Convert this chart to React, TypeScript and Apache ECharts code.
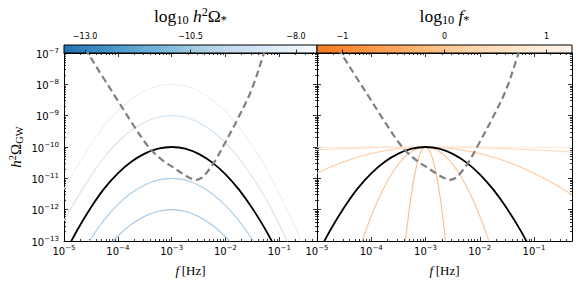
import React, { useEffect, useRef } from 'react';
import * as echarts from 'echarts';

// ---- data (log10 values) ----
const freqExp = [-5, -4.75, -4.5, -4.25, -4, -3.75, -3.5, -3.25, -3, -2.75, -2.5, -2.25, -2, -1.75, -1.5, -1.25, -1, -0.75, -0.5, -0.3];

const fiducialExp = [-13.45, -12.64, -11.93, -11.32, -10.84, -10.47, -10.21, -10.05, -10.0, -10.05, -10.22, -10.49, -10.87, -11.36, -11.96, -12.66, -13.48, -14.4, -15.4, -16.3];

// left panel: amplitude variations (log10 h^2 Omega_* = -12, -11, -9, -8)
const ampLevels = [-12, -11, -9, -8];
const ampM12Exp = [-15.45, -14.64, -13.93, -13.32, -12.84, -12.47, -12.21, -12.05, -12.0, -12.05, -12.22, -12.49, -12.87, -13.36, -13.96, -14.66, -15.48, -16.4, -17.4, -18.3];
const ampM11Exp = [-14.45, -13.64, -12.93, -12.32, -11.84, -11.47, -11.21, -11.05, -11.0, -11.05, -11.22, -11.49, -11.87, -12.36, -12.96, -13.66, -14.48, -15.4, -16.4, -17.3];
const ampM9Exp = [-12.35, -11.6, -10.92, -10.32, -9.84, -9.47, -9.21, -9.05, -9.0, -9.05, -9.22, -9.49, -9.87, -10.36, -10.96, -11.66, -12.48, -13.4, -14.4, -15.3];
const ampM8Exp = [-11.35, -10.6, -9.92, -9.32, -8.84, -8.47, -8.21, -8.05, -8.0, -8.05, -8.22, -8.49, -8.87, -9.36, -9.96, -10.66, -11.48, -12.4, -13.4, -14.3];

// right panel: width variations (log10 f_* = -1, -0.5, 0, 0.5, 1)
const widthLevels = [-1, -0.5, 0, 0.5, 1];
const narrowFreqExp = [-3.45, -3.4, -3.35, -3.3, -3.25, -3.2, -3.15, -3.1, -3.05, -3, -2.95, -2.9, -2.85, -2.8, -2.75, -2.7, -2.65, -2.6, -2.55];
const widthM1Exp = [-14.46, -13.52, -12.7, -11.98, -11.38, -10.88, -10.5, -10.22, -10.055, -10, -10.055, -10.22, -10.5, -10.88, -11.38, -11.98, -12.7, -13.52, -14.46];
const midFreqExp = [-4.6, -4.4, -4.2, -4.0, -3.8, -3.6, -3.4, -3.2, -3.0, -2.8, -2.6, -2.4, -2.2, -2.0, -1.8, -1.6, -1.4];
const widthM05Exp = [-15.63, -14.31, -13.17, -12.2, -11.41, -10.79, -10.35, -10.09, -10, -10.09, -10.35, -10.79, -11.41, -12.2, -13.17, -14.31, -15.63];
const width0Exp = [-10.84, -10.64, -10.47, -10.33, -10.21, -10.12, -10.05, -10.01, -10, -10.01, -10.05, -10.12, -10.21, -10.33, -10.47, -10.64, -10.84, -11.06, -11.31, -11.53];
const width05Exp = [-10.09, -10.07, -10.05, -10.04, -10.02, -10.01, -10.01, -10.0, -10, -10.0, -10.01, -10.01, -10.02, -10.04, -10.05, -10.07, -10.09, -10.12, -10.14, -10.17];
const width1Exp = [-10.01, -10.01, -10.005, -10.004, -10.002, -10.001, -10.001, -10, -10, -10, -10.001, -10.001, -10.002, -10.004, -10.005, -10.007, -10.009, -10.012, -10.015, -10.02];

// sensitivity curve (dashed)
const sensFreqExp = [-4.62, -4.53, -4.27, -4.0, -3.75, -3.5, -3.34, -3.15, -3.0, -2.8, -2.65, -2.55, -2.45, -2.35, -2.2, -2.0, -1.77, -1.52, -1.3, -1.25];
const sensOmegaExp = [-6.85, -7.08, -7.79, -8.52, -9.2, -9.84, -10.17, -10.45, -10.62, -10.85, -11.0, -11.05, -10.99, -10.82, -10.46, -9.84, -9.09, -8.19, -7.08, -6.8];

// ticks
const xTickExp = [-5, -4, -3, -2, -1];
const yTickExp = [-13, -12, -11, -10, -9, -8, -7];
const ampBarTicks = [-13, -10.5, -8];
const widthBarTicks = [-1, 0, 1];
const ampBarRange = [-13.5, -7.5];
const widthBarRange = [-1.25, 1.25];

// ---- layout / styles ----
const X_MIN = -5;
const X_MAX = Math.log10(0.5);
const Y_MIN = -13;
const Y_MAX = -7;

const blueColors = ['#a0c6e2', '#aacde6', '#d2e3f2', '#e8f1f9'];
const orangeColors = ['#fdbd86', '#fdc28f', '#fdcb9f', '#fedabd', '#feeadb'];

const minorX: number[] = [];
for (let n = -5; n <= -1; n++) {
  for (let k = 2; k <= 9; k++) {
    const v = n + Math.log10(k);
    if (v < X_MAX - 1e-6) minorX.push(v);
  }
}
const minorY: number[] = [];
for (let n = -13; n <= -8; n++) {
  for (let k = 2; k <= 9; k++) minorY.push(n + Math.log10(k));
}

const MINUS = '\u2212';
const powLabel = (v: number) => {
  const e = Math.round(v);
  return `{b|10}{e|${e < 0 ? MINUS : ''}${Math.abs(e)}}`;
};
const tickRich = {
  b: { fontFamily: 'DejaVu Sans', fontSize: 10, lineHeight: 12, verticalAlign: 'bottom', color: '#000' },
  e: { fontFamily: 'DejaVu Sans', fontSize: 7, lineHeight: 7, verticalAlign: 'top', color: '#000' },
};
const serif = 'Liberation Serif';
const mathRich = (size: number) => ({
  r: { fontFamily: serif, fontSize: size, lineHeight: size + 3, color: '#000' },
  i: { fontFamily: serif, fontStyle: 'italic', fontSize: size, lineHeight: size + 3, color: '#000' },
  s: { fontFamily: serif, fontSize: size * 0.7, lineHeight: size * 0.55, verticalAlign: 'bottom', color: '#000' },
  p: { fontFamily: serif, fontSize: size * 0.7, lineHeight: size * 0.55, verticalAlign: 'top', color: '#000' },
});

const tickLine = { color: '#000', width: 0.8 };

function panelXAxes(grid: number) {
  const base = { type: 'value', gridIndex: grid, min: X_MIN, max: X_MAX, splitLine: { show: false } };
  return [
    {
      ...base, position: 'bottom',
      axisLine: { show: true, onZero: false, lineStyle: { color: '#000', width: 1 } },
      axisTick: { show: true, inside: true, length: 4, customValues: xTickExp, lineStyle: tickLine },
      axisLabel: { show: true, customValues: xTickExp, formatter: powLabel, margin: 3, rich: tickRich },
      name: '{i|f}{r|\u2009[Hz]}', nameLocation: 'middle', nameGap: 21,
      nameTextStyle: { rich: mathRich(13) },
    },
    {
      ...base, position: 'top',
      axisLine: { show: true, onZero: false, lineStyle: { color: '#000', width: 1 } },
      axisTick: { show: true, inside: true, length: 4, customValues: xTickExp, lineStyle: tickLine },
      axisLabel: { show: false },
    },
    {
      ...base, position: 'bottom', axisLine: { show: false },
      axisTick: { show: true, inside: true, length: 2, customValues: minorX, lineStyle: tickLine },
      axisLabel: { show: false },
    },
    {
      ...base, position: 'top', axisLine: { show: false },
      axisTick: { show: true, inside: true, length: 2, customValues: minorX, lineStyle: tickLine },
      axisLabel: { show: false },
    },
  ];
}

function panelYAxes(grid: number, withLabels: boolean) {
  const base = { type: 'value', gridIndex: grid, min: Y_MIN, max: Y_MAX, splitLine: { show: false } };
  const main: any = {
    ...base, position: 'left',
    axisLine: { show: true, onZero: false, lineStyle: { color: '#000', width: 1 } },
    axisTick: { show: true, inside: true, length: 4, customValues: yTickExp, lineStyle: tickLine },
    axisLabel: withLabels
      ? { show: true, customValues: yTickExp, formatter: powLabel, margin: 5, rich: tickRich }
      : { show: false },
  };
  if (withLabels) {
    main.name = '{i|h}{p|2}{r|\u03A9}{s|GW}';
    main.nameLocation = 'middle';
    main.nameGap = 39;
    main.nameTextStyle = { rich: mathRich(15) };
  }
  return [
    main,
    {
      ...base, position: 'right',
      axisLine: { show: true, onZero: false, lineStyle: { color: '#000', width: 1 } },
      axisTick: { show: true, inside: true, length: 4, customValues: yTickExp, lineStyle: tickLine },
      axisLabel: { show: false },
    },
    {
      ...base, position: 'left', axisLine: { show: false },
      axisTick: { show: true, inside: true, length: 2, customValues: minorY, lineStyle: tickLine },
      axisLabel: { show: false },
    },
    {
      ...base, position: 'right', axisLine: { show: false },
      axisTick: { show: true, inside: true, length: 2, customValues: minorY, lineStyle: tickLine },
      axisLabel: { show: false },
    },
  ];
}

function colorbarAxis(grid: number, range: number[], ticks: number[], fmt: (v: number) => string, name: string) {
  return {
    type: 'value', gridIndex: grid, position: 'top', min: range[0], max: range[1],
    splitLine: { show: false },
    axisLine: { show: false },
    axisTick: { show: true, inside: false, length: 3.5, customValues: ticks, lineStyle: tickLine },
    axisLabel: {
      show: true, customValues: ticks, formatter: fmt, margin: 5,
      fontFamily: 'DejaVu Sans', fontSize: 8, color: '#000',
    },
    name, nameLocation: 'middle', nameGap: 19,
    nameTextStyle: { rich: mathRich(17.5) },
  };
}

const gradient = (stops: [number, string][]) => ({
  type: 'linear', x: 0, y: 0, x2: 1, y2: 0,
  colorStops: stops.map(([offset, color]) => ({ offset, color })),
});

function lineSeries(xs: number[], ys: number[], grid: number, color: string, width: number, z: number, dashed = false) {
  return {
    type: 'line',
    xAxisIndex: grid * 4,
    yAxisIndex: grid * 4,
    data: xs.map((x, i) => [x, ys[i]]),
    showSymbol: false,
    symbol: 'none',
    smooth: 0.35,
    clip: true,
    silent: true,
    z,
    lineStyle: { color, width, type: dashed ? [7, 4] : 'solid', cap: 'butt' },
  };
}

export default function App() {
  const ref = useRef<HTMLDivElement>(null);
  useEffect(() => {
    if (!ref.current) return;
    const chart = echarts.init(ref.current, undefined, { renderer: 'svg' });

    const ampSeries = [ampM12Exp, ampM11Exp, ampM9Exp, ampM8Exp];
    const widthSeries: [number[], number[]][] = [
      [narrowFreqExp, widthM1Exp],
      [midFreqExp, widthM05Exp],
      [freqExp, width0Exp],
      [freqExp, width05Exp],
      [freqExp, width1Exp],
    ];

    const series: any[] = [];
    ampSeries.forEach((ys, i) => series.push({ ...lineSeries(freqExp, ys, 0, blueColors[i], 1.1, 2), name: `amp ${ampLevels[i]}` }));
    series.push(lineSeries(freqExp, fiducialExp, 0, '#000', 1.8, 3));
    series.push(lineSeries(sensFreqExp, sensOmegaExp, 0, '#808080', 2.2, 4, true));
    widthSeries.forEach(([xs, ys], i) => series.push({ ...lineSeries(xs, ys, 1, orangeColors[i], 1.1, 2), name: `width ${widthLevels[i]}` }));
    series.push(lineSeries(freqExp, fiducialExp, 1, '#000', 1.8, 3));
    series.push(lineSeries(sensFreqExp, sensOmegaExp, 1, '#808080', 2.2, 4, true));

    const option: any = {
      animation: false,
      backgroundColor: '#fff',
      textStyle: { fontFamily: 'DejaVu Sans' },
      grid: [
        { left: 64, top: 53, width: 253, height: 188, show: false },
        { left: 317, top: 53, width: 255, height: 188, show: false },
        {
          left: 64, top: 45, width: 253, height: 8, show: true, borderColor: '#000', borderWidth: 1,
          backgroundColor: gradient([[0, '#2171b5'], [0.167, '#4292c6'], [0.333, '#6baed6'], [0.5, '#9ecae1'], [0.667, '#c6dbef'], [0.833, '#deebf7'], [1, '#f7fbff']]),
        },
        {
          left: 317, top: 45, width: 255, height: 8, show: true, borderColor: '#000', borderWidth: 1,
          backgroundColor: gradient([[0, '#f47b20'], [0.15, '#fd8d3c'], [0.36, '#fdae6b'], [0.57, '#fdd0a2'], [0.79, '#fee6ce'], [1, '#fff5eb']]),
        },
      ],
      xAxis: [
        ...panelXAxes(0),
        ...panelXAxes(1),
        colorbarAxis(2, ampBarRange, ampBarTicks, (v) => (v < 0 ? MINUS : '') + Math.abs(v).toFixed(1), '{r|log}{s|10}{r| }{i|h}{p|2}{r|\u03A9}{s|*}'),
        colorbarAxis(3, widthBarRange, widthBarTicks, (v) => (v < 0 ? MINUS : '') + Math.abs(v).toFixed(0), '{r|log}{s|10}{r| }{i|f}{s|*}'),
      ],
      yAxis: [
        ...panelYAxes(0, true),
        ...panelYAxes(1, false),
        { type: 'value', gridIndex: 2, show: false, min: 0, max: 1 },
        { type: 'value', gridIndex: 3, show: false, min: 0, max: 1 },
      ],
      series,
    };
    chart.setOption(option);
    return () => chart.dispose();
  }, []);
  return <div ref={ref} style={{ position: 'absolute', left: 0, top: 0, width: 581, height: 288 }} />;
}
